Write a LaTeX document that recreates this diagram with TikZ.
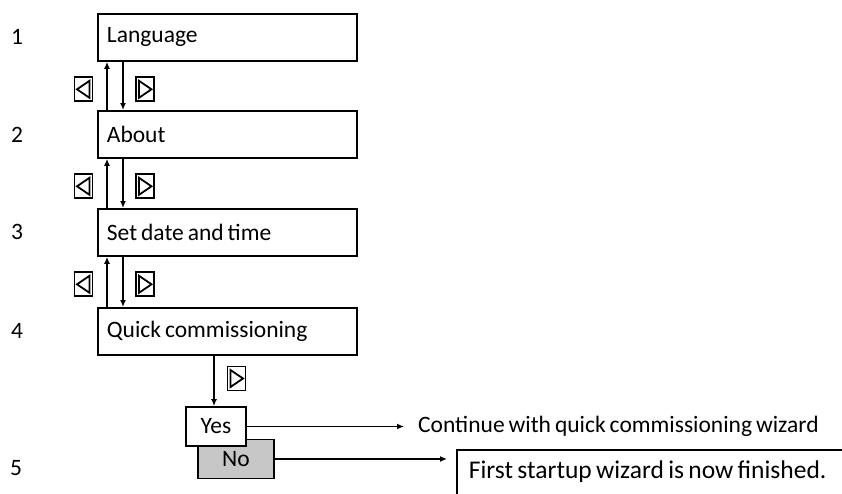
\documentclass[tikz,border=0pt]{standalone}
\usepackage{fontspec}
\setmainfont[WordSpace=0.75]{Carlito}
\usetikzlibrary{arrows.meta, positioning}

\begin{document}
\begin{tikzpicture}[
  x=1pt, y=-1pt,
  font=\fontsize{23.5}{27}\selectfont,
  stepbox/.style={rectangle, draw, line width=1.8pt, anchor=north west, minimum height=47pt, text width=241pt, inner xsep=9pt, align=flush left},
  choice/.style={rectangle, draw, line width=1.8pt, minimum height=39pt, inner sep=0pt},
  navkey/.style={rectangle, draw, line width=1.8pt, minimum width=18pt, minimum height=24pt, inner sep=0pt},
  navback/.style={navkey, path picture={\draw[line width=1.8pt] ([shift={(6,-8.5)}]path picture bounding box.center) -- ([shift={(6,8.5)}]path picture bounding box.center) -- ([shift={(-6.5,0)}]path picture bounding box.center) -- cycle;}},
  navnext/.style={navkey, path picture={\draw[line width=1.8pt] ([shift={(-6,-8.5)}]path picture bounding box.center) -- ([shift={(-6,8.5)}]path picture bounding box.center) -- ([shift={(6.5,0)}]path picture bounding box.center) -- cycle;}},
  arrow/.style={-{Latex[length=7pt,width=6pt]}, line width=1.6pt},
  numlabel/.style={inner sep=0pt}
]
\clip (0,0) rectangle (842,493);

% menu steps
\node[stepbox] (lang) at (97,13) {Language};
\node[stepbox] (about) at (97,110) {About};
\node[stepbox] (date) at (97,208) {Set date and time};
\node[stepbox] (quick) at (97,307) {Quick commissioning};

\node[numlabel] (n1) at ([xshift=-80pt]lang.west) {1};
\node[numlabel] (n2) at ([xshift=-80pt]about.west) {2};
\node[numlabel] (n3) at ([xshift=-80pt]date.west) {3};
\node[numlabel] (n4) at ([xshift=-80pt]quick.west) {4};

% back / next between the steps
\foreach \a/\b in {lang/about, about/date, date/quick} {
  \draw[arrow] ([xshift=10pt]\b.north west) -- ([xshift=10pt]\a.south west);
  \draw[arrow] ([xshift=26pt]\a.south west) -- ([xshift=26pt]\b.north west);
  \node[navback] at ([xshift=-13.5pt,yshift=-27.5pt]\a.south west) {};
  \node[navnext] at ([xshift=48pt,yshift=-27.5pt]\a.south west) {};
}

% yes / no
\node[choice, fill=black!22, minimum width=76pt] (no) at (236,459) {No};
\node[choice, fill=white, minimum width=60pt] (yes) at (216,426.5) {Yes};
\node[navnext] (nextq) at (236.5,378.5) {};
\draw[arrow] ([xshift=117pt]quick.south west) -- ([xshift=117pt]quick.south west |- yes.north);

\node[anchor=west, inner sep=0pt] (cont) at (418,426) {Continue with quick commissioning wizard};
\node[rectangle, draw, line width=1.8pt, anchor=north west, text width=400pt, inner xsep=12pt, inner ysep=11pt, text depth=40pt, align=flush left, font=\fontsize{25.5}{29}\selectfont] (done) at (456,449) {First startup wizard is now finished.};
\node[numlabel] (n5) at (16,468) {5};

\draw[arrow, shorten >=14pt] (yes.east) -- (yes.east -| cont.west);
\draw[arrow, shorten >=9pt] (no.east) -- (no.east -| done.west);

\end{tikzpicture}
\end{document}
